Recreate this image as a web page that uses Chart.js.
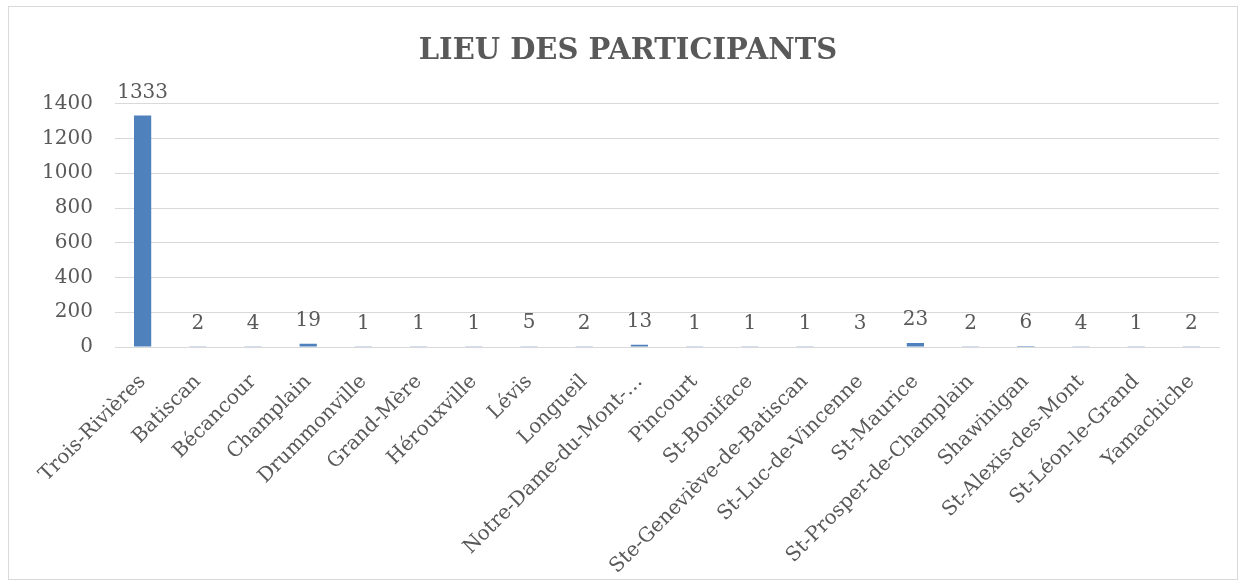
<!DOCTYPE html>
<html>
<head>
<meta charset="utf-8">
<script src="https://cdn.jsdelivr.net/npm/chart.js@4"></script>
<style>
  body { margin: 0; background: #fff; }
  #frame { position: absolute; left: 8px; top: 6px; width: 1230px; height: 574px; border: 1px solid #d9d9d9; box-sizing: border-box; }
</style>
</head>
<body>
<div id="frame"><canvas id="lieuChart"></canvas></div>
<script>
// Categories and counts
const lieux = [
    "Trois-Rivières", "Batiscan", "Bécancour", "Champlain", "Drummonville",
    "Grand-Mère", "Hérouxville", "Lévis", "Longueil", "Notre-Dame-du-Mont-…",
    "Pincourt", "St-Boniface", "Ste-Geneviève-de-Batiscan", "St-Luc-de-Vincenne",
    "St-Maurice", "St-Prosper-de-Champlain", "Shawinigan", "St-Alexis-des-Mont",
    "St-Léon-le-Grand", "Yamachiche"
];
const participants = [1333, 2, 4, 19, 1, 1, 1, 5, 2, 13, 1, 1, 1, 3, 23, 2, 6, 4, 1, 2];
const yTicks = [0, 200, 400, 600, 800, 1000, 1200, 1400];

const serif = "'DejaVu Serif', serif";
const grey = "#595959";

// Draw the value above each bar
const valueLabels = {
    id: "valueLabels",
    afterDatasetsDraw(chart) {
        const ctx = chart.ctx;
        const meta = chart.getDatasetMeta(0);
        ctx.save();
        ctx.font = "20px " + serif;
        ctx.fillStyle = grey;
        ctx.textAlign = "center";
        ctx.textBaseline = "bottom";
        meta.data.forEach((bar, i) => {
            ctx.fillText(participants[i], bar.x, bar.y - 13);
        });
        ctx.restore();
    }
};

const chartCanvas = document.getElementById("lieuChart");
new Chart(chartCanvas, {
    type: "bar",
    data: {
        labels: lieux,
        datasets: [{
            data: participants,
            backgroundColor: "#4f81bd",
            barPercentage: 0.6,
            categoryPercentage: 0.52
        }]
    },
    options: {
        responsive: true,
        maintainAspectRatio: false,
        animation: false,
        layout: { padding: { left: 28, right: 18, top: 0, bottom: 0 } },
        plugins: {
            legend: { display: false },
            tooltip: { enabled: false },
            title: {
                display: true,
                text: "LIEU DES PARTICIPANTS",
                color: grey,
                font: { family: serif, size: 29, weight: "bold" },
                padding: { top: 27, bottom: 35 }
            }
        },
        scales: {
            x: {
                grid: { display: false },
                border: { color: "#d9d9d9" },
                afterFit(axis) {
                    axis.height = 232;
                    axis.paddingLeft = 0;
                },
                ticks: {
                    color: grey,
                    padding: 15,
                    font: { family: serif, size: 20 },
                    minRotation: 45,
                    maxRotation: 45,
                    autoSkip: false
                }
            },
            y: {
                min: 0,
                max: 1400,
                afterBuildTicks(axis) {
                    axis.ticks = yTicks.map(v => ({ value: v }));
                },
                afterFit(axis) { axis.width = 78; },
                grid: { color: "#d9d9d9", drawTicks: false },
                border: { display: false },
                ticks: {
                    color: grey,
                    padding: 22,
                    font: { family: serif, size: 20 },
                    callback: v => String(v)
                }
            }
        }
    },
    plugins: [valueLabels]
});
</script>
</body>
</html>
